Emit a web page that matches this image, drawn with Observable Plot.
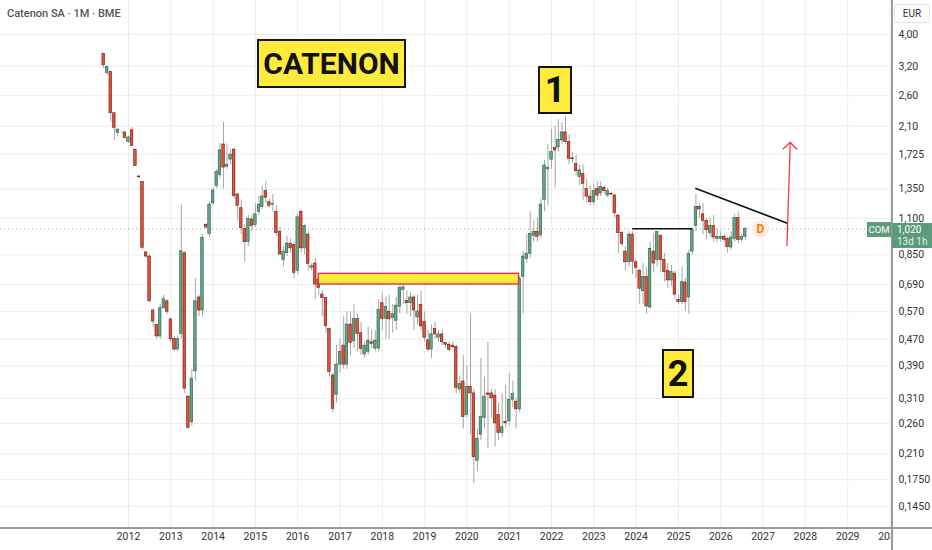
<!DOCTYPE html>
<html>
<head>
<meta charset="utf-8">
<script src="https://cdn.jsdelivr.net/npm/d3@7"></script>
<script src="https://cdn.jsdelivr.net/npm/@observablehq/plot@0.6"></script>
<style>
  body { margin: 0; background: #fff; }
  #wrap { position: relative; width: 932px; height: 550px; overflow: hidden; font-family: Roboto, "Noto Sans", sans-serif; }
  .ov { position: absolute; box-sizing: border-box; }
  .tagbox { background: #ffeb3b; border: 2.5px solid #151515; color: #111; font-weight: 700; display: flex; align-items: center; justify-content: center; font-family: Roboto, "Open Sans", sans-serif; }
</style>
</head>
<body>
<div id="wrap"></div>
<script>
// ---- data (monthly candles, first bar = June 2011) ----
const firstMonth = "2011-06-01";
const openP = [
3.49, 3.05, 3.07, 2.30, 2.00, 2.01, 2.01, 1.88, 2.04, 1.78,
1.475, 1.42, 0.865, 0.84, 0.575, 0.52, 0.479, 0.584, 0.613, 0.54,
0.47, 0.437, 0.488, 0.86, 0.314, 0.262, 0.375, 0.63, 0.575, 1.05,
0.985, 1.22, 1.38, 1.49, 1.846, 1.58, 1.66, 1.78, 1.30, 1.18,
1.02, 0.93, 1.09, 1.05, 1.15, 1.19, 1.33, 1.23, 1.21, 1.15,
1.00, 0.82, 0.86, 0.92, 0.91, 0.76, 1.15, 0.89, 0.98, 0.775,
0.80, 0.715, 0.643, 0.627, 0.505, 0.364, 0.318, 0.393, 0.449, 0.393,
0.521, 0.463, 0.542, 0.49, 0.422, 0.43, 0.46, 0.44, 0.44, 0.605,
0.542, 0.57, 0.545, 0.535, 0.59, 0.665, 0.615, 0.605, 0.63, 0.548,
0.598, 0.53, 0.466, 0.437, 0.505, 0.475, 0.486, 0.457, 0.452, 0.449,
0.445, 0.33, 0.349, 0.276, 0.336, 0.321, 0.2, 0.24, 0.27, 0.321,
0.321, 0.316, 0.276, 0.243, 0.263, 0.264, 0.307, 0.303, 0.287, 0.727,
0.826, 0.857, 0.97, 1.0, 0.975, 1.25, 1.55, 1.66, 1.8, 1.81,
1.9, 2.01, 1.88, 1.675, 1.61, 1.47, 1.5, 1.35, 1.28, 1.23,
1.35, 1.31, 1.36, 1.29, 1.305, 1.29, 1.12, 0.99, 0.87, 0.807,
0.98, 0.807, 0.76, 0.658, 0.727, 0.587, 0.87, 0.82, 0.97, 0.82,
0.76, 0.71, 0.745, 0.62, 0.61, 0.70, 0.63, 0.87, 1.04, 1.19,
1.13, 1.08, 0.99, 1.04, 0.95, 0.95, 0.965, 0.95, 0.895, 0.95,
1.10, 0.945, 0.965
];
const closeP = [
3.22, 3.18, 2.30, 2.075, 2.05, 2.01, 1.93, 1.94, 1.83, 1.59,
1.465, 0.893, 0.84, 0.613, 0.532, 0.479, 0.584, 0.622, 0.57, 0.469,
0.437, 0.47, 0.872, 0.332, 0.252, 0.356, 0.613, 0.575, 0.958, 1.03,
1.21, 1.336, 1.52, 1.77, 1.57, 1.60, 1.72, 1.284, 1.20, 1.025,
0.929, 1.095, 1.04, 1.13, 1.21, 1.28, 1.27, 1.20, 1.215, 0.99,
0.852, 0.87, 0.92, 0.89, 0.749, 1.107, 0.89, 1.04, 0.798, 0.785,
0.69, 0.674, 0.627, 0.515, 0.373, 0.288, 0.393, 0.429, 0.393, 0.521,
0.457, 0.542, 0.488, 0.439, 0.449, 0.465, 0.455, 0.465, 0.578, 0.542,
0.59, 0.54, 0.56, 0.595, 0.674, 0.676, 0.605, 0.63, 0.575, 0.571,
0.514, 0.475, 0.437, 0.486, 0.486, 0.486, 0.46, 0.452, 0.436, 0.444,
0.334, 0.343, 0.272, 0.336, 0.321, 0.205, 0.233, 0.272, 0.314, 0.318,
0.31, 0.26, 0.243, 0.253, 0.26, 0.307, 0.32, 0.287, 0.718, 0.84,
0.857, 0.985, 1.0, 0.965, 1.21, 1.593, 1.565, 1.75, 1.77, 1.908,
2.01, 1.88, 1.67, 1.665, 1.53, 1.54, 1.40, 1.28, 1.23, 1.33,
1.29, 1.37, 1.33, 1.33, 1.30, 1.139, 0.99, 0.918, 0.807, 0.98,
0.81, 0.776, 0.670, 0.727, 0.591, 0.887, 0.80, 0.997, 0.82, 0.753,
0.71, 0.753, 0.643, 0.61, 0.701, 0.61, 0.857, 1.014, 1.19, 1.17,
1.08, 1.01, 1.04, 0.96, 0.965, 0.965, 0.945, 0.897, 0.96, 1.103,
0.945, 0.965, 1.02
];
const highP = [
3.5, 3.2, 3.1, 2.3, 2.06, 2.02, 2.02, 1.96, 2.08, 1.78,
1.48, 1.42, 0.87, 0.85, 0.58, 0.52, 0.6, 0.64, 0.62, 0.545,
0.48, 0.48, 1.21, 0.87, 0.315, 0.38, 0.72, 0.64, 0.98, 1.06,
1.23, 1.36, 1.55, 1.86, 2.16, 1.85, 1.78, 1.8, 1.31, 1.25,
1.05, 1.12, 1.12, 1.22, 1.28, 1.38, 1.42, 1.26, 1.3, 1.2,
1.03, 0.9, 0.97, 0.95, 0.93, 1.13, 1.16, 1.05, 1.0, 0.8,
0.83, 0.73, 0.66, 0.63, 0.51, 0.37, 0.45, 0.47, 0.55, 0.57,
0.57, 0.6, 0.56, 0.53, 0.46, 0.51, 0.5, 0.5, 0.62, 0.65,
0.63, 0.64, 0.6, 0.63, 0.71, 0.72, 0.66, 0.65, 0.64, 0.64,
0.66, 0.57, 0.5, 0.52, 0.53, 0.5, 0.5, 0.46, 0.46, 0.46,
0.45, 0.36, 0.42, 0.39, 0.56, 0.33, 0.25, 0.41, 0.36, 0.46,
0.33, 0.33, 0.3, 0.32, 0.34, 0.37, 0.35, 0.31, 0.73, 0.87,
0.98, 1.15, 1.08, 1.1, 1.26, 1.65, 1.85, 2.05, 2.1, 2.2,
2.15, 2.25, 1.98, 1.75, 1.72, 1.6, 1.6, 1.45, 1.38, 1.4,
1.42, 1.42, 1.38, 1.36, 1.32, 1.3, 1.13, 1.0, 0.9, 1.0,
1.0, 0.82, 0.77, 0.8, 0.78, 0.93, 0.99, 1.0, 0.98, 0.86,
0.8, 0.79, 0.76, 0.64, 0.78, 0.72, 0.88, 1.03, 1.3, 1.22,
1.22, 1.1, 1.1, 1.12, 1.02, 1.0, 0.98, 0.96, 1.0, 1.13,
1.15, 0.98, 1.03
];
const lowP = [
3.15, 3.0, 2.16, 1.90, 1.95, 2.0, 1.92, 1.86, 1.82, 1.58,
1.46, 0.88, 0.83, 0.61, 0.51, 0.47, 0.47, 0.58, 0.56, 0.46,
0.43, 0.43, 0.47, 0.32, 0.25, 0.255, 0.35, 0.55, 0.55, 1.02,
0.96, 1.2, 1.35, 1.45, 1.35, 1.55, 1.6, 1.26, 1.08, 0.98,
0.81, 0.9, 1.0, 1.03, 1.12, 1.17, 1.22, 1.18, 1.15, 0.97,
0.85, 0.78, 0.84, 0.86, 0.72, 0.74, 0.86, 0.85, 0.76, 0.76,
0.62, 0.64, 0.55, 0.49, 0.36, 0.28, 0.30, 0.37, 0.38, 0.38,
0.42, 0.44, 0.43, 0.42, 0.41, 0.42, 0.44, 0.43, 0.43, 0.5,
0.47, 0.47, 0.49, 0.5, 0.56, 0.6, 0.56, 0.55, 0.5, 0.52,
0.5, 0.46, 0.43, 0.41, 0.47, 0.46, 0.45, 0.44, 0.43, 0.44,
0.32, 0.32, 0.25, 0.27, 0.24, 0.17, 0.185, 0.23, 0.25, 0.217,
0.27, 0.22, 0.23, 0.235, 0.25, 0.255, 0.29, 0.25, 0.28, 0.56,
0.8, 0.83, 0.93, 0.93, 0.95, 1.15, 1.2, 1.55, 1.36, 1.75,
1.85, 1.85, 1.6, 1.62, 1.48, 1.38, 1.25, 1.22, 1.2, 1.2,
1.25, 1.28, 1.3, 1.27, 1.29, 1.1, 0.86, 0.9, 0.76, 0.78,
0.74, 0.72, 0.6, 0.6, 0.56, 0.58, 0.75, 0.78, 0.75, 0.7,
0.67, 0.68, 0.62, 0.6, 0.6, 0.57, 0.56, 0.85, 1.0, 1.1,
0.98, 0.95, 0.97, 0.93, 0.93, 0.93, 0.93, 0.86, 0.88, 0.93,
0.92, 0.93, 0.94
];
const yTicks  = [4.0, 3.2, 2.6, 2.1, 1.725, 1.35, 1.1, 0.85, 0.69, 0.57, 0.47, 0.39, 0.31, 0.26, 0.21, 0.175, 0.145];
const yLabels = ["4,00","3,20","2,60","2,10","1,725","1,350","1,100","0,850","0,690","0,570","0,470","0,390","0,310","0,260","0,210","0,1750","0,1450"];
const yearTicks = [2012,2013,2014,2015,2016,2017,2018,2019,2020,2021,2022,2023,2024,2025,2026,2027,2028,2029,2030];
const lastPrice = 1.02;
// drawings (date, price)
const supportBand = [{x1: "2016-07-01", x2: "2021-03-26", y1: 0.69, y2: 0.744}];
const necklines = [
  {x1: "2023-11-28", y1: 1.021, x2: "2025-04-28", y2: 1.021},
  {x1: "2025-05-26", y1: 1.358, x2: "2027-07-30", y2: 1.062}
];
const targetArrow = [{x1: "2027-07-27", y1: 0.908, x2: "2027-08-24", y2: 1.876}];
const dividendMark = [{x: "2026-12-10", y: 1.02, t: "D"}];

// ---- build ----
const parse = s => new Date(s + "T00:00:00Z");
const start = parse(firstMonth);
const candles = openP.map((o, i) => ({
  date: d3.utcMonth.offset(start, i),
  open: o, close: closeP[i], high: highP[i], low: lowP[i],
  up: closeP[i] >= o
}));
const yearDates = yearTicks.map(y => new Date(Date.UTC(y, 0, 1)));
const band = supportBand.map(d => ({...d, x1: parse(d.x1), x2: parse(d.x2)}));
const lines = necklines.map(d => ({...d, x1: parse(d.x1), x2: parse(d.x2)}));
const arrows = targetArrow.map(d => ({...d, x1: parse(d.x1), x2: parse(d.x2)}));
const dmark = dividendMark.map(d => ({...d, x: parse(d.x)}));

const chart = Plot.plot({
  width: 932, height: 550,
  marginLeft: 0, marginRight: 40, marginTop: 0, marginBottom: 23,
  x: {type: "utc", domain: [parse("2008-12-22"), parse("2030-01-23")]},
  y: {type: "log", domain: [0.1251, 5.08]},
  style: {fontFamily: "Roboto, 'Noto Sans', sans-serif", fontSize: "10.5px", color: "#333", background: "transparent", overflow: "visible"},
  marks: [
    Plot.gridX(yearDates, {stroke: "#ededed", strokeOpacity: 1}),
    Plot.gridY(yTicks, {stroke: "#ededed", strokeOpacity: 1}),
    Plot.axisX(yearDates, {tickSize: 0, tickPadding: 5, tickFormat: d3.utcFormat("%Y"), label: null, fill: "#333"}),
    Plot.axisY(yTicks, {anchor: "right", tickSize: 0, tickPadding: 6, tickFormat: d => yLabels[yTicks.indexOf(d)], label: null, fill: "#333"}),
    Plot.ruleY([lastPrice], {stroke: "#5a9e7a", strokeDasharray: "1,3", strokeOpacity: 0.8}),
    Plot.ruleX(candles, {x: "date", y1: "low", y2: "high", stroke: "#a5a5a5", strokeWidth: 1}),
    Plot.rect(candles, {
      x1: d => d3.utcDay.offset(d.date, -11), x2: d => d3.utcDay.offset(d.date, 11),
      y1: "open", y2: "close",
      fill: d => d.up ? "#62a683" : "#e4503a",
      stroke: d => d.up ? "#2f5d46" : "#6e1b10", strokeWidth: 0.6
    }),
    Plot.rect(band, {x1: "x1", x2: "x2", y1: "y1", y2: "y2", fill: "#ffeb3b", stroke: "#e0245e", strokeWidth: 1.3}),
    Plot.link(lines, {x1: "x1", y1: "y1", x2: "x2", y2: "y2", stroke: "#111", strokeWidth: 1.6}),
    Plot.arrow(arrows, {x1: "x1", y1: "y1", x2: "x2", y2: "y2", stroke: "#f23645", strokeWidth: 1.3, headAngle: 90, headLength: 11}),
    Plot.dot(dmark, {x: "x", y: "y", r: 8.5, fill: "#fdebe2", stroke: "none"}),
    Plot.text(dmark, {x: "x", y: "y", text: "t", fill: "#f57c00", fontSize: 12, fontWeight: "bold"})
  ]
});

const wrap = document.getElementById("wrap");
wrap.appendChild(chart);

function ov(html, css, cls) {
  const d = document.createElement("div");
  d.className = "ov" + (cls ? " " + cls : "");
  d.innerHTML = html;
  Object.assign(d.style, css);
  wrap.appendChild(d);
  return d;
}
// cover part of cut-off "2030" under the price scale and draw panel borders
ov("", {left: "892px", top: "528px", width: "40px", height: "22px", background: "#fff"});
ov("", {left: "891px", top: "0px", width: "1.5px", height: "550px", background: "#9a9a9a"});
ov("", {left: "0px", top: "527px", width: "932px", height: "1.5px", background: "#9a9a9a"});

// header
ov("Catenon SA · 1M · BME", {left: "7px", top: "7px", fontSize: "11px", fontWeight: "500", color: "#555", whiteSpace: "nowrap"});
// currency
ov("EUR", {left: "894px", top: "4px", width: "36px", height: "19px", border: "1px solid #e3e3e3", borderRadius: "3px", fontSize: "10px", color: "#333", display: "flex", alignItems: "center", justifyContent: "center"});

// price labels
const ypx = chart.scale("y").apply(lastPrice);
ov("COM", {left: "867px", top: (ypx - 6) + "px", width: "24px", height: "15px", background: "#5b9b79", color: "#fff", fontSize: "9.5px", display: "flex", alignItems: "center", justifyContent: "center"});
ov('<div style="line-height:11.5px">1,020</div><div style="line-height:11.5px;opacity:.85">13d 1h</div>',
   {left: "892px", top: (ypx - 5) + "px", width: "40px", height: "25px", background: "#5b9b79", color: "#fff", fontSize: "10px", paddingLeft: "5px", paddingTop: "1px"});

// text annotations
ov("CATENON", {left: "257px", top: "39px", width: "149px", height: "49px", fontSize: "30px"}, "tagbox");
ov("1", {left: "538px", top: "66px", width: "34px", height: "48px", fontSize: "36px"}, "tagbox");
ov("2", {left: "662px", top: "349px", width: "32px", height: "49px", fontSize: "36px"}, "tagbox");
</script>
</body>
</html>
